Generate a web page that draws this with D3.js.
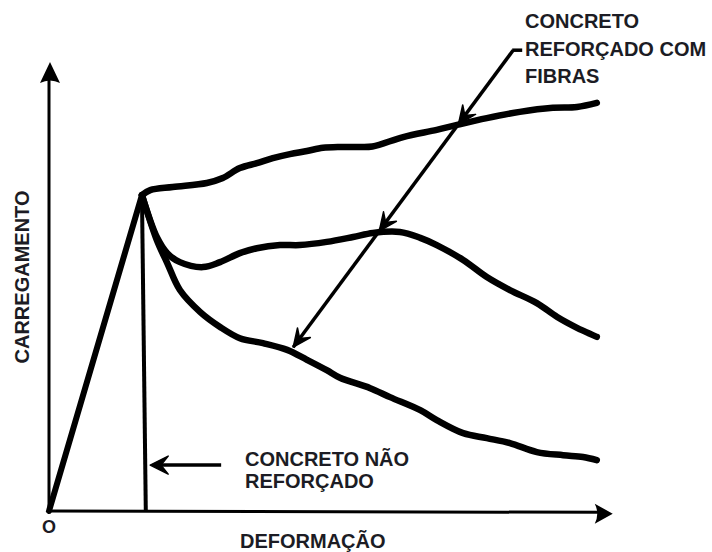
<!DOCTYPE html>
<html>
<head>
<meta charset="utf-8">
<script src="https://cdn.jsdelivr.net/npm/d3@7/dist/d3.min.js"></script>
<style>
  html, body { margin: 0; padding: 0; background: #fff; }
  svg { display: block; }
  text { font-family: "Liberation Sans", Arial, sans-serif; font-weight: bold; fill: #1c1c24; }
</style>
</head>
<body>
<svg id="chart" width="712" height="552"></svg>
<script>
// ---- Data (arbitrary units: deformation 0-100, load 0-100) ----
const naoReforcado = [[0, 0], [16.9, 70.2], [17.6, 0]];

const fibrasAlta = [
  [16.9, 70.2], [18.4, 71.3], [22.5, 72.0], [28.7, 72.9], [31.6, 74.0], [34.7, 76.2],
  [37.8, 77.3], [40.7, 78.4], [43.8, 79.3], [46.9, 80.0], [49.8, 80.7], [52.9, 80.9],
  [56.0, 80.9], [58.8, 81.0], [64.4, 83.1], [70.5, 84.7], [74.2, 85.8], [79.6, 87.3],
  [85.6, 88.7], [91.6, 89.6], [96.0, 89.8], [99.6, 90.7]
];

const fibrasMedia = [
  [16.9, 70.2], [19.6, 60.9], [21.5, 57.3], [23.8, 55.3], [28.0, 54.2], [31.1, 55.3],
  [34.7, 57.3], [37.8, 58.4], [42.0, 59.1], [45.6, 59.1], [50.5, 59.8], [55.3, 60.9],
  [58.9, 61.8], [63.8, 62.0], [67.5, 60.7], [70.5, 59.1], [75.3, 55.8],
  [79.6, 52.0], [83.8, 49.1], [88.7, 46.2], [92.4, 43.1], [96.0, 40.7], [99.6, 38.7]
];

const fibrasBaixa = [
  [16.9, 70.2], [19.6, 60.2], [21.5, 55.1], [23.8, 49.1], [27.5, 44.2], [31.1, 40.9],
  [34.7, 38.4], [38.9, 37.3], [43.3, 35.8], [46.9, 33.6], [50.5, 31.3], [52.9, 29.6],
  [58.4, 27.3], [62.0, 25.3], [67.5, 22.4], [70.5, 20.2], [75.3, 17.3], [79.6, 16.2],
  [83.8, 15.1], [88.7, 13.1], [93.5, 12.4], [97.1, 12.0], [99.6, 11.3]
];

// annotation leader lines (data units)
const setaFibras = [[84.4, 102.4], [44.4, 36.4]];
const setaFibrasPontas = [0.249, 0.609, 1.0];
const setaNao = [[31.3, 10.2], [18.4, 10.2]];

const labelFibras = ["CONCRETO", "REFORÇADO COM", "FIBRAS"];
const labelNao = ["CONCRETO NÃO", "REFORÇADO"];
const xLabel = "DEFORMAÇÃO";
const yLabel = "CARREGAMENTO";
const originLabel = "O";

// ---- Scales ----
const x = d3.scaleLinear().domain([0, 100]).range([49, 599]);
const y = d3.scaleLinear().domain([0, 100]).range([511, 61]);

const svg = d3.select("#chart");
const ink = "#000";

// ---- Axes ----
svg.append("line").attr("x1", x(0)).attr("y1", y(0)).attr("x2", x(0)).attr("y2", y(96))
  .attr("stroke", ink).attr("stroke-width", 3);
svg.append("line").attr("x1", x(0)).attr("y1", y(0)).attr("x2", x(100.5)).attr("y2", y(-0.3))
  .attr("stroke", ink).attr("stroke-width", 3);
// y arrowhead
{
  const tx = x(0) + 1, ty = y(100) + 1;
  svg.append("path")
    .attr("d", `M${tx},${ty} L${tx - 10},${ty + 21} Q${tx},${ty + 16} ${tx + 10},${ty + 21} Z`)
    .attr("fill", ink);
}
// x arrowhead
{
  const tx = x(102.5), ty = y(-0.6);
  svg.append("path")
    .attr("d", `M${tx},${ty} L${tx - 18},${ty - 10} Q${tx - 13},${ty} ${tx - 18},${ty + 10} Z`)
    .attr("fill", ink);
}

// ---- Curves ----
const line = d3.line().x(d => x(d[0])).y(d => y(d[1])).curve(d3.curveCatmullRom.alpha(0.5));
const straight = d3.line().x(d => x(d[0])).y(d => y(d[1]));

[fibrasAlta, fibrasMedia, fibrasBaixa].forEach(s => {
  svg.append("path").attr("d", line(s)).attr("fill", "none").attr("stroke", ink)
    .attr("stroke-width", 6.5).attr("stroke-linecap", "round").attr("stroke-linejoin", "round");
});
// unreinforced: rising line (thick) and vertical drop (thinner)
svg.append("path").attr("d", straight(naoReforcado.slice(0, 2))).attr("fill", "none")
  .attr("stroke", ink).attr("stroke-width", 6).attr("stroke-linecap", "round");
svg.append("path").attr("d", straight(naoReforcado.slice(1))).attr("fill", "none")
  .attr("stroke", ink).attr("stroke-width", 4);

// ---- Annotation arrows ----
function arrowHead(tipX, tipY, ang, len, half) {
  const bx = tipX - Math.cos(ang) * len, by = tipY - Math.sin(ang) * len;
  const px = -Math.sin(ang) * half, py = Math.cos(ang) * half;
  const mx = tipX - Math.cos(ang) * len * 0.6, my = tipY - Math.sin(ang) * len * 0.6;
  svg.append("path")
    .attr("d", `M${tipX},${tipY} L${bx + px},${by + py} L${mx},${my} L${bx - px},${by - py} Z`)
    .attr("fill", ink).attr("stroke", ink).attr("stroke-width", 1.5).attr("stroke-linejoin", "round");
}

{
  const [a, b] = setaFibras;
  const x1 = x(a[0]), y1 = y(a[1]), x2 = x(b[0]), y2 = y(b[1]);
  svg.append("line").attr("x1", x1).attr("y1", y1).attr("x2", x2).attr("y2", y2)
    .attr("stroke", ink).attr("stroke-width", 3.5);
  svg.append("line").attr("x1", x1 - 1).attr("y1", y1).attr("x2", x1 + 9).attr("y2", y1)
    .attr("stroke", ink).attr("stroke-width", 3.5);
  const ang = Math.atan2(y2 - y1, x2 - x1);
  setaFibrasPontas.forEach(t => {
    arrowHead(x1 + (x2 - x1) * t, y1 + (y2 - y1) * t, ang, 18, 8);
  });
}
{
  const [a, b] = setaNao;
  const x1 = x(a[0]), y1 = y(a[1]), x2 = x(b[0]), y2 = y(b[1]);
  svg.append("line").attr("x1", x1).attr("y1", y1).attr("x2", x2 + 3).attr("y2", y2)
    .attr("stroke", ink).attr("stroke-width", 3.5);
  arrowHead(x2, y2, Math.atan2(y2 - y1, x2 - x1), 18, 9);
}

// ---- Text ----
svg.append("text").attr("x", 525).attr("y", 28).attr("font-size", 20)
  .selectAll("tspan").data(labelFibras).join("tspan")
  .attr("x", 525).attr("dy", (d, i) => i === 0 ? 0 : 27.5).text(d => d);

svg.append("text").attr("x", 245).attr("y", 466).attr("font-size", 20)
  .selectAll("tspan").data(labelNao).join("tspan")
  .attr("x", 245).attr("dy", (d, i) => i === 0 ? 0 : 22).text(d => d);

svg.append("text").attr("x", 240).attr("y", 548).attr("font-size", 20).text(xLabel);

svg.append("text").attr("transform", "translate(28.5,277) rotate(-90)")
  .attr("text-anchor", "middle").attr("font-size", 20).text(yLabel);

svg.append("text").attr("x", 49).attr("y", 533).attr("text-anchor", "middle")
  .attr("font-size", 18).text(originLabel);
</script>
</body>
</html>
